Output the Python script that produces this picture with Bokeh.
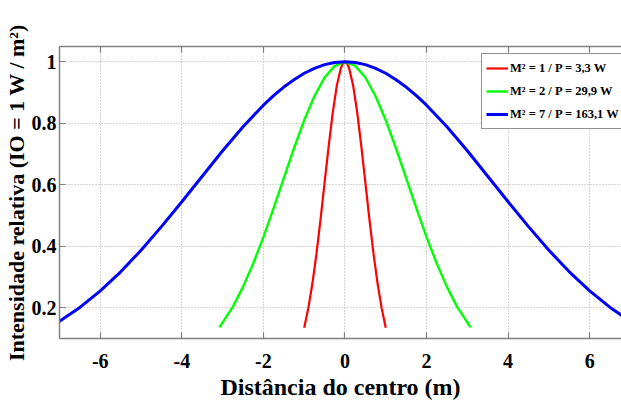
from bokeh.plotting import figure
from bokeh.models import LinearAxis, FixedTicker, Legend, LegendItem, Range1d, Grid
from bokeh.embed import file_html
from bokeh.resources import INLINE

# ---- data ----
red_x = [-1.0, -0.9, -0.8, -0.7, -0.6, -0.5, -0.4, -0.3, -0.2, -0.1, -0.05, 0.0,
         0.05, 0.1, 0.2, 0.3, 0.4, 0.5, 0.6, 0.7, 0.8, 0.9, 1.0]
red_y = [0.135, 0.198, 0.278, 0.375, 0.487, 0.607, 0.726, 0.835, 0.923, 0.980, 0.995, 1.0,
         0.995, 0.980, 0.923, 0.835, 0.726, 0.607, 0.487, 0.375, 0.278, 0.198, 0.135]

green_x = [-3.08, -2.75, -2.5, -2.25, -2.0, -1.75, -1.5, -1.25, -1.0, -0.75, -0.5, -0.25, 0.0,
           0.25, 0.5, 0.75, 1.0, 1.25, 1.5, 1.75, 2.0, 2.25, 2.5, 2.75, 3.08]
green_y = [0.136, 0.203, 0.268, 0.344, 0.430, 0.524, 0.622, 0.719, 0.810, 0.888, 0.949, 0.987, 1.0,
           0.987, 0.949, 0.888, 0.810, 0.719, 0.622, 0.524, 0.430, 0.344, 0.268, 0.203, 0.136]

blue_x = [-7.0, -6.5, -6.0, -5.5, -5.0, -4.5, -4.0, -3.5, -3.0, -2.5, -2.0, -1.75, -1.5, -1.25,
          -1.0, -0.75, -0.5, -0.25, 0.0, 0.25, 0.5, 0.75, 1.0, 1.25, 1.5, 1.75, 2.0,
          2.5, 3.0, 3.5, 4.0, 4.5, 5.0, 5.5, 6.0, 6.5, 7.0]
blue_y = [0.156, 0.201, 0.255, 0.317, 0.387, 0.464, 0.545, 0.628, 0.711, 0.789, 0.859, 0.890, 0.918, 0.942,
          0.963, 0.979, 0.991, 0.998, 1.0, 0.998, 0.991, 0.979, 0.963, 0.942, 0.918, 0.890, 0.859,
          0.789, 0.711, 0.628, 0.545, 0.464, 0.387, 0.317, 0.255, 0.201, 0.156]

series_labels = ["M² = 1 / P = 3,3 W", "M² = 2 / P = 29,9 W", "M² = 7 / P = 163,1 W"]

x_ticks = [-6, -4, -2, 0, 2, 4, 6]
x_tick_labels = ["-6", "-4", "-2", "0", "2", "4", "6"]
y_ticks = [0.2, 0.4, 0.6, 0.8, 1.0]
y_tick_labels = ["0.2", "0.4", "0.6", "0.8", "1"]

x_label = "Distância do centro (m)"
y_label = "Intensidade relativa (IO = 1 W / m²)"

FONT = "Liberation Serif"
AX_COL = "#808080"

p = figure(width=621, height=404, output_backend="svg", toolbar_location=None,
           x_range=Range1d(-7.0, 6.78), y_range=Range1d(0.1, 1.05),
           x_axis_location=None, y_axis_location=None,
           min_border_left=56, min_border_right=0, min_border_top=46, min_border_bottom=66)
p.outline_line_color = None
p.background_fill_color = "white"
p.border_fill_color = "white"

def style_axis(ax):
    ax.axis_line_color = AX_COL
    ax.axis_line_width = 1.5
    ax.major_tick_line_color = AX_COL
    ax.major_tick_line_width = 1.2
    ax.major_tick_in = 6
    ax.major_tick_out = 0
    ax.minor_tick_line_color = None
    ax.major_label_text_font = FONT
    ax.major_label_text_font_style = "bold"
    ax.major_label_text_color = "black"
    ax.axis_label_text_font = FONT
    ax.axis_label_text_font_style = "bold"
    ax.axis_label_text_color = "black"

xb = LinearAxis(ticker=FixedTicker(ticks=x_ticks), axis_label=x_label)
style_axis(xb)
xb.major_label_overrides = {t: s for t, s in zip(x_ticks, x_tick_labels)}
xb.major_label_text_font_size = "20px"
xb.major_label_standoff = 15
xb.axis_label_text_font_size = "24px"
xb.axis_label_standoff = 3
p.add_layout(xb, "below")

xt = LinearAxis(ticker=FixedTicker(ticks=x_ticks))
style_axis(xt)
xt.major_label_text_alpha = 0
xt.major_label_text_font_size = "8px"
p.add_layout(xt, "above")

yl = LinearAxis(ticker=FixedTicker(ticks=y_ticks), axis_label=y_label)
style_axis(yl)
yl.major_label_overrides = {t: s for t, s in zip(y_ticks, y_tick_labels)}
yl.major_label_text_font_size = "20px"
yl.major_label_standoff = 3
yl.axis_label_text_font_size = "22px"
yl.axis_label_standoff = 0
p.add_layout(yl, "left")

p.xgrid.visible = False
p.ygrid.visible = False
gx = Grid(dimension=0, ticker=FixedTicker(ticks=x_ticks), grid_line_color="#aaaaaa",
          grid_line_dash="1 2", grid_line_width=1)
gy = Grid(dimension=1, ticker=FixedTicker(ticks=y_ticks), grid_line_color="#aaaaaa",
          grid_line_dash="1 2", grid_line_width=1)
p.add_layout(gx)
p.add_layout(gy)

r_red = p.line(red_x, red_y, line_color="#ff0000", line_width=2.2)
r_green = p.line(green_x, green_y, line_color="#00ff00", line_width=2.4)
r_blue = p.line(blue_x, blue_y, line_color="#0000ff", line_width=3)

legend = Legend(items=[LegendItem(label=series_labels[0], renderers=[r_red]),
                       LegendItem(label=series_labels[1], renderers=[r_green]),
                       LegendItem(label=series_labels[2], renderers=[r_blue])],
                location=(422, 209))
legend.margin = 0
legend.padding = 4
legend.spacing = 3
legend.glyph_width = 22
legend.glyph_height = 20
legend.label_height = 20
legend.label_standoff = 2
legend.label_text_font = FONT
legend.label_text_font_style = "bold"
legend.label_text_font_size = "12.5px"
legend.label_text_color = "black"
legend.border_line_color = "#222222"
legend.border_line_width = 1.5
legend.background_fill_color = "white"
legend.background_fill_alpha = 1.0
p.add_layout(legend)

open("out.html", "w").write(file_html(p, INLINE))
